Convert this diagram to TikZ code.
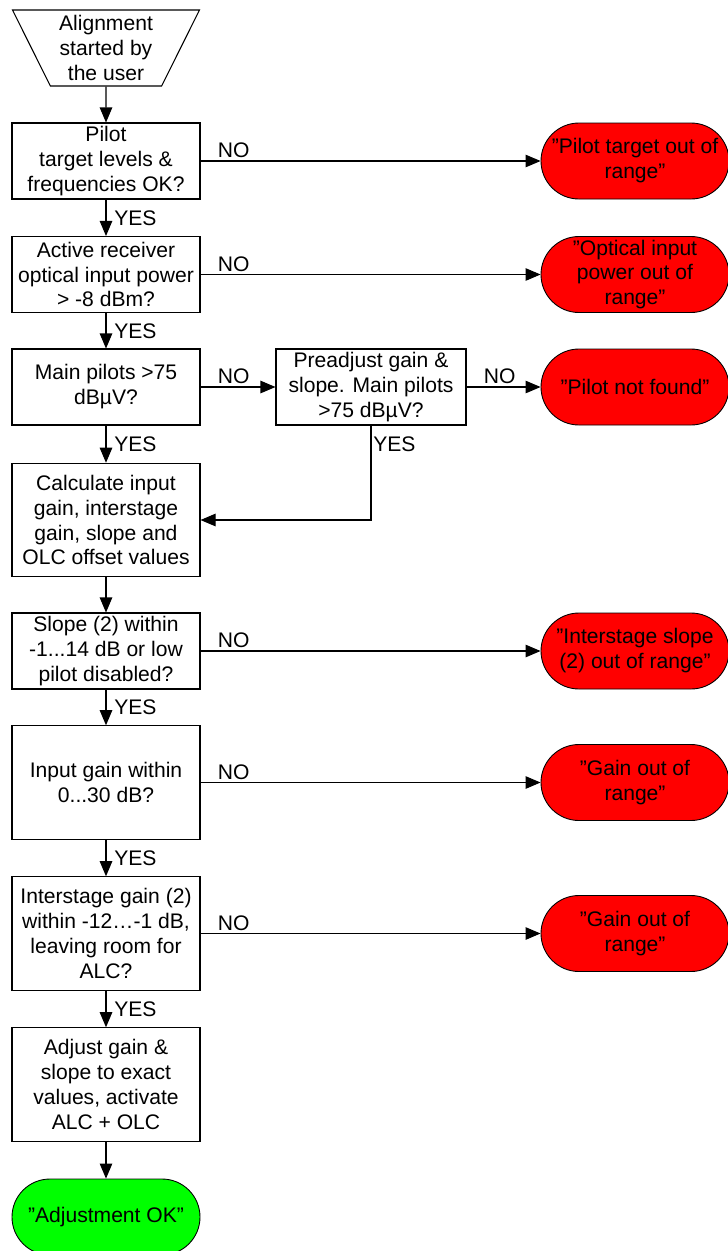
\documentclass[tikz,border=0pt]{standalone}
\usepackage{fontspec}
\setmainfont{Liberation Sans}
\usepackage{tikz}
\usetikzlibrary{arrows.meta, positioning, shapes.geometric}

\begin{document}
\begin{tikzpicture}[
  every node/.style={font=\fontsize{12}{14.2}\selectfont},
  stepbox/.style={draw, line width=0.6pt, minimum width=3.76cm, minimum height=1.52cm, align=center, inner sep=1pt},
  tallbox/.style={stepbox, minimum height=2.27cm},
  endbox/.style={draw, line width=0.5pt, rounded corners=0.76cm, minimum width=3.76cm, minimum height=1.52cm, align=center, inner sep=1pt, text=black},
  flow/.style={-{Triangle[length=0.3cm, width=0.25cm]}, line width=0.6pt},
  nolab/.style={pos=0, anchor=south west, xshift=0.3cm, yshift=0.02cm, inner sep=1pt},
  yeslab/.style={midway, anchor=west, xshift=0.12cm, inner sep=1pt}
]
  \useasboundingbox (0,0) rectangle (14.54,-25.02);

  % main column
  \node[draw, line width=0.6pt, trapezium, shape border rotate=180, trapezium stretches=true,
        trapezium left angle=64, trapezium right angle=64,
        minimum width=3.76cm, minimum height=1.52cm, align=center, inner sep=0pt]
        (start) at (2.12,-0.96) {Alignment\\started by\\the user};
  \node[stepbox] (q1)   at (2.12,-3.22)  {Pilot\\target levels \&\\frequencies OK?};
  \node[stepbox] (q2)   at (2.12,-5.49)  {Active receiver\\optical input power\\> -8 dBm?};
  \node[stepbox] (q3)   at (2.12,-7.74)  {Main pilots >75\\dBµV?};
  \node[tallbox] (calc) at (2.12,-10.40) {Calculate input\\gain, interstage\\gain, slope and\\OLC offset values};
  \node[stepbox] (q4)   at (2.12,-13.02) {Slope (2) within\\-1...14 dB or low\\pilot disabled?};
  \node[tallbox] (q5)   at (2.12,-15.65) {Input gain within\\0...30 dB?};
  \node[tallbox] (q6)   at (2.12,-18.67) {Interstage gain (2)\\within -12…-1 dB,\\leaving room for\\ALC?};
  \node[tallbox] (adj)  at (2.12,-21.69) {Adjust gain \&\\slope to exact\\values, activate\\ALC + OLC};
  \node[endbox, fill=green] (ok) at (2.12,-24.34) {”Adjustment OK”};

  \node[stepbox, minimum width=3.8cm] (pre) at (7.42,-7.74) {Preadjust gain \&\\slope. Main pilots\\>75 dBµV?};

  % error ends
  \node[endbox, fill=red] (r1) at (12.7,-3.22)  {”Pilot target out of\\range”};
  \node[endbox, fill=red] (r2) at (12.7,-5.49)  {”Optical input\\power out of\\range”};
  \node[endbox, fill=red] (r3) at (12.7,-7.74)  {”Pilot not found”};
  \node[endbox, fill=red] (r4) at (12.7,-13.02) {”Interstage slope\\(2) out of range”};
  \node[endbox, fill=red] (r5) at (12.7,-15.65) {”Gain out of\\range”};
  \node[endbox, fill=red] (r6) at (12.7,-18.67) {”Gain out of\\range”};

  % YES path
  \draw[flow] (start) -- (q1);
  \draw[flow] (q1) -- node[yeslab] {YES} (q2);
  \draw[flow] (q2) -- node[yeslab] {YES} (q3);
  \draw[flow] (q3) -- node[yeslab] {YES} (calc);
  \draw[flow] (calc) -- (q4);
  \draw[flow] (q4) -- node[yeslab] {YES} (q5);
  \draw[flow] (q5) -- node[yeslab] {YES} (q6);
  \draw[flow] (q6) -- node[yeslab] {YES} (adj);
  \draw[flow] (adj) -- (ok);
  \draw[flow] (pre.south) |- node[pos=0, anchor=north west, yshift=-0.18cm, inner sep=1pt] {YES} (calc.east);

  % NO path
  \draw[flow] (q1) -- node[nolab] {NO} (r1);
  \draw[flow] (q2) -- node[nolab] {NO} (r2);
  \draw[flow] (q3) -- node[nolab] {NO} (pre);
  \draw[flow] (pre) -- node[nolab] {NO} (r3);
  \draw[flow] (q4) -- node[nolab] {NO} (r4);
  \draw[flow] (q5) -- node[nolab] {NO} (r5);
  \draw[flow] (q6) -- node[nolab] {NO} (r6);
\end{tikzpicture}
\end{document}
